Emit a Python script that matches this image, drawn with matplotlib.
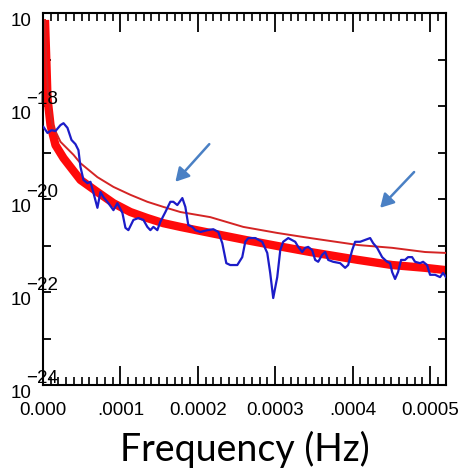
import numpy as np
import matplotlib
matplotlib.use("Agg")
import matplotlib.pyplot as plt
from matplotlib.ticker import MultipleLocator, FixedLocator

# ---- data (frequency in units of 1e-4 Hz, PSD as log10 values) ----
blue_f = [0.006, 0.058, 0.110, 0.161, 0.226, 0.265, 0.316, 0.368, 0.419, 0.458,
          0.484, 0.523, 0.574, 0.613, 0.652, 0.703, 0.742, 0.781, 0.845, 0.910,
          0.961, 1.026, 1.065, 1.103, 1.168, 1.232, 1.297, 1.348, 1.387, 1.426,
          1.477, 1.516, 1.581, 1.645, 1.684, 1.735, 1.800, 1.839, 1.877, 1.929,
          1.968, 2.032, 2.123, 2.200, 2.265, 2.316, 2.368, 2.419, 2.510, 2.574,
          2.613, 2.652, 2.742, 2.832, 2.897, 2.935, 2.974, 3.026, 3.065, 3.103,
          3.168, 3.258, 3.297, 3.348, 3.387, 3.426, 3.477, 3.516, 3.555, 3.606,
          3.645, 3.684, 3.748, 3.839, 3.903, 3.942, 3.994, 4.032, 4.097, 4.161,
          4.226, 4.265, 4.316, 4.381, 4.445, 4.484, 4.510, 4.548, 4.587, 4.626,
          4.677, 4.716, 4.768, 4.806, 4.871, 4.910, 4.961, 5.000, 5.065, 5.129,
          5.168, 5.206]
blue_log = [-18.45, -18.58, -18.52, -18.54, -18.41, -18.37, -18.47, -18.73, -18.82, -18.95,
            -19.31, -19.59, -19.66, -19.63, -19.87, -20.19, -19.85, -19.96, -20.09, -20.24,
            -20.09, -20.30, -20.62, -20.67, -20.45, -20.41, -20.45, -20.60, -20.67, -20.60,
            -20.67, -20.49, -20.28, -20.06, -20.06, -20.13, -19.98, -20.17, -20.56, -20.60,
            -20.67, -20.71, -20.67, -20.65, -20.71, -20.95, -21.38, -21.42, -21.42, -21.25,
            -20.92, -20.84, -20.84, -20.92, -21.16, -21.59, -22.13, -21.68, -21.10, -20.92,
            -20.84, -20.92, -21.03, -21.14, -21.05, -21.03, -21.10, -21.31, -21.35, -21.20,
            -21.14, -21.31, -21.35, -21.38, -21.48, -21.42, -21.10, -20.92, -20.92, -20.88,
            -20.84, -20.95, -21.05, -21.25, -21.35, -21.38, -21.57, -21.72, -21.57, -21.31,
            -21.31, -21.25, -21.25, -21.35, -21.38, -21.35, -21.42, -21.63, -21.63, -21.68,
            -21.59, -21.68]

fit_f = [0.026, 0.032, 0.045, 0.058, 0.097, 0.161, 0.265, 0.484, 0.703, 0.910,
         1.129, 1.348, 1.555, 1.774, 2.161, 2.613, 3.026, 3.452, 4.071, 4.510,
         4.935, 5.206]
fit_log = [-16.15, -16.47, -17.12, -17.83, -18.41, -18.84, -19.12, -19.59, -19.85, -20.09,
           -20.28, -20.41, -20.52, -20.60, -20.73, -20.88, -21.01, -21.14, -21.31, -21.42,
           -21.48, -21.53]

upper_f = [0.026, 0.032, 0.045, 0.065, 0.123, 0.226, 0.394, 0.484, 0.703, 0.910,
           1.129, 1.348, 1.555, 1.774, 2.161, 2.587, 3.026, 3.452, 4.071, 4.510,
           4.935, 5.206]
upper_log = [-16.15, -16.47, -17.12, -17.76, -18.41, -18.77, -19.05, -19.23, -19.53, -19.74,
             -19.91, -20.06, -20.17, -20.28, -20.39, -20.60, -20.73, -20.84, -20.99, -21.05,
             -21.14, -21.16]

# arrows: (tail f, tail log, tip f, tip log)
arrow1 = (2.148, -18.82, 1.710, -19.63)
arrow2 = (4.794, -19.42, 4.355, -20.19)

xtick_vals = [0.0, 1.0, 2.0, 3.0, 4.0, 5.0]
xtick_labels = ["0.000", ".0001", "0.0002", "0.0003", ".0004", "0.0005"]
ytick_exps = [-24, -22, -20, -18, -16]
yexp_labels = ["\u221224", "\u221222", "\u221220", "\u221218"]

SCALE = 1e-4

fig = plt.figure(figsize=(4.66, 4.74), dpi=100)
ax = fig.add_axes([43/466, 1 - 385/474, (446 - 43)/466, (385 - 13)/474])

tickfont = ["Liberation Sans", "DejaVu Sans"]

ax.plot(np.array(fit_f) * SCALE, 10.0 ** np.array(fit_log), color="#ff0a0a", lw=6.0,
        solid_capstyle="butt", solid_joinstyle="round", zorder=2)
ax.plot(np.array(upper_f) * SCALE, 10.0 ** np.array(upper_log), color="#d42424", lw=1.4,
        solid_joinstyle="round", zorder=3)
ax.plot(np.array(blue_f) * SCALE, 10.0 ** np.array(blue_log), color="#1c1cc8", lw=1.6,
        solid_joinstyle="round", zorder=4)

ax.set_yscale("log")
ax.set_xlim(0, 5.206 * SCALE)
ax.set_ylim(1e-24, 1e-16)

# x ticks
ax.xaxis.set_major_locator(FixedLocator(np.array(xtick_vals) * SCALE))
ax.set_xticklabels(xtick_labels, fontfamily=tickfont, fontsize=13.5)
ax.xaxis.set_minor_locator(MultipleLocator(0.1 * SCALE))
ax.tick_params(axis="x", which="major", direction="in", length=14, width=1.3,
               top=True, bottom=True, pad=12)
ax.tick_params(axis="x", which="minor", direction="in", length=6, width=1.2,
               top=True, bottom=True)

# y ticks
ax.yaxis.set_major_locator(FixedLocator([10.0 ** e for e in ytick_exps]))
ax.set_yticklabels(["10"] * len(ytick_exps), fontfamily=tickfont, fontsize=13.5)
ax.yaxis.set_minor_locator(FixedLocator([10.0 ** e for e in range(-23, -16, 2)]))
ax.yaxis.set_minor_formatter(plt.NullFormatter())
ax.tick_params(axis="y", which="both", direction="in", length=6, width=1.3,
               left=True, right=True, pad=8)
for lab in ax.get_yticklabels():
    lab.set_verticalalignment("top")

for e, txt in zip(ytick_exps[:-1], yexp_labels):
    ax.annotate(txt, xy=(0, 10.0 ** e), xycoords=("axes fraction", "data"),
                xytext=(-12, 5), textcoords="offset points", ha="left", va="center",
                fontfamily=tickfont, fontsize=13.5, annotation_clip=False)

for sp in ax.spines.values():
    sp.set_linewidth(1.5)

ax.set_xlabel("Frequency (Hz)", fontfamily=["Lato", "DejaVu Sans"], fontsize=27, labelpad=9)

for a in (arrow1, arrow2):
    ax.annotate("", xy=(a[2] * SCALE, 10.0 ** a[3]), xytext=(a[0] * SCALE, 10.0 ** a[1]),
                arrowprops=dict(arrowstyle="-|>,head_length=0.8,head_width=0.45",
                                color="#4a80c4", lw=1.8, shrinkA=0, shrinkB=0))

fig.savefig("out.png", dpi=100)
